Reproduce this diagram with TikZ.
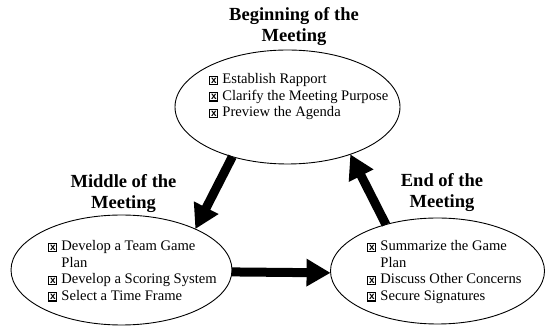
\documentclass[tikz,border=0pt]{standalone}
\usepackage{fontspec}
\setmainfont{Liberation Serif}
\newfontfamily\cbfont{Liberation Sans}
\usetikzlibrary{arrows.meta,shapes.geometric}
\newcommand{\cb}{{\setlength{\fboxsep}{0pt}\setlength{\fboxrule}{1.1pt}\fbox{\makebox[7pt][c]{\rule{0pt}{7pt}\raisebox{0.9pt}{\cbfont\bfseries\fontsize{10}{10}\selectfont x}}}}}
\begin{document}
\begin{tikzpicture}[x=1pt,y=1pt,
  phase/.style={draw=black,line width=0.9pt,ellipse,inner sep=0pt,outer sep=0pt},
  heading/.style={anchor=base,inner sep=0pt,font=\fontsize{18.5}{21}\selectfont\bfseries},
  items/.style={anchor=base west,inner sep=0pt,font=\fontsize{14.6}{16.5}\selectfont},
  flow/.style={line width=9pt,-{Triangle[length=24pt,width=26pt]}}]
\useasboundingbox (0,0) rectangle (546,326);
\node[phase,minimum width=225pt,minimum height=114pt] (top) at (287.5,219) {};
\node[phase,minimum width=221pt,minimum height=110pt] (mid) at (121.5,56) {};
\node[phase,minimum width=214pt,minimum height=106pt] (end) at (437.5,55) {};
\node[heading] (toptitle) at (294,305) {\begin{tabular}[t]{@{}c@{}}Beginning of the\\Meeting\end{tabular}};
\node[heading] (midtitle) at (123.5,138) {\begin{tabular}[t]{@{}c@{}}Middle of the\\Meeting\end{tabular}};
\node[heading] (endtitle) at (442,139) {\begin{tabular}[t]{@{}c@{}}End of the\\Meeting\end{tabular}};
\node[items] (toplist) at (209,242) {\begin{tabular}[t]{@{}l@{\hspace{4pt}}l@{}}\cb & Establish Rapport\\ \cb & Clarify the Meeting Purpose\\ \cb & Preview the Agenda\end{tabular}};
\node[items] (midlist) at (48,75) {\begin{tabular}[t]{@{}l@{\hspace{4pt}}l@{}}\cb & Develop a Team Game\\ & Plan\\ \cb & Develop a Scoring System\\ \cb & Select a Time Frame\end{tabular}};
\node[items] (endlist) at (367,75) {\begin{tabular}[t]{@{}l@{\hspace{4pt}}l@{}}\cb & Summarize the Game\\ & Plan\\ \cb & Discuss Other Concerns\\ \cb & Secure Signatures\end{tabular}};
\draw[flow] (top.222) -- (mid.29);
\draw[flow] (mid.-1) -- (end.181);
\draw[flow] (end.138) -- (top.-37);
\end{tikzpicture}
\end{document}
